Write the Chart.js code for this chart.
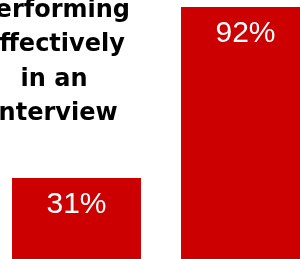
<!DOCTYPE html>
<html>
<head>
<meta charset="utf-8">
<script src="https://cdn.jsdelivr.net/npm/chart.js@4"></script>
<style>
  html, body { margin: 0; padding: 0; background: #fff; overflow: hidden; }
  #wrap { position: relative; width: 300px; height: 259px; overflow: hidden; }
  #box { position: absolute; left: -8px; top: 0; width: 338px; height: 265px; }
</style>
</head>
<body>
<div id="wrap"><div id="box"><canvas id="barChart"></canvas></div></div>
<script>
const categories = ['Group A', 'Group B'];
const values = [31, 92];
const rowLabel = ['Performing', 'effectively', 'in an', 'interview'];

const labelPlugin = {
    id: 'labels',
    afterDatasetsDraw(chart) {
        const ctx = chart.ctx;
        ctx.save();
        // value labels inside the bars
        ctx.fillStyle = '#ffffff';
        ctx.font = '30px "Liberation Sans", Arial, sans-serif';
        ctx.textAlign = 'center';
        ctx.textBaseline = 'alphabetic';
        chart.getDatasetMeta(0).data.forEach((bar, i) => {
            ctx.fillText(values[i] + '%', bar.x, bar.y + 35);
        });
        // row label at the top left (partly cut off by the frame)
        ctx.fillStyle = '#000000';
        ctx.font = 'bold 24px "DejaVu Sans", sans-serif';
        rowLabel.forEach((line, i) => {
            ctx.fillText(line, 62, 17 + i * 34.3);
        });
        ctx.restore();
    }
};

const ctx = document.getElementById('barChart').getContext('2d');
new Chart(ctx, {
    type: 'bar',
    data: {
        labels: categories,
        datasets: [{
            data: values,
            backgroundColor: '#cc0000',
            borderWidth: 0,
            barPercentage: 1,
            categoryPercentage: 0.763
        }]
    },
    options: {
        responsive: true,
        maintainAspectRatio: false,
        animation: false,
        layout: { padding: { top: 7, left: 0, right: 0, bottom: 0 } },
        plugins: {
            legend: { display: false },
            tooltip: { enabled: false }
        },
        scales: {
            x: { display: false },
            y: { display: false, min: 0, max: 92 }
        }
    },
    plugins: [labelPlugin]
});
</script>
</body>
</html>
